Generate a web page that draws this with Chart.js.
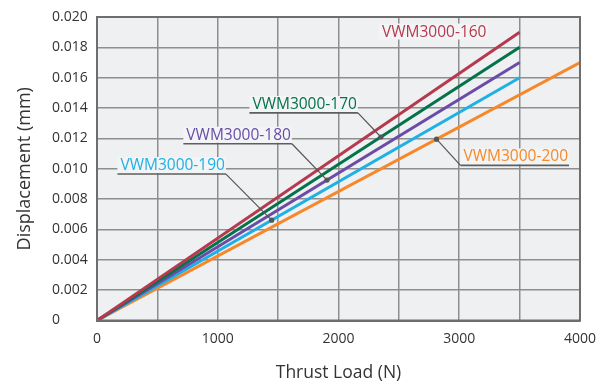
<!DOCTYPE html>
<html>
<head>
<meta charset="utf-8">
<script src="https://cdn.jsdelivr.net/npm/chart.js@4/dist/chart.umd.min.js"></script>
<style>
  html, body { margin: 0; padding: 0; background: #ffffff; }
  #wrap { width: 606px; height: 385px; }
</style>
</head>
<body>
<div id="wrap"><canvas id="c"></canvas></div>
<script>
// Thrust load (N) end points of each stiffness line
const loadTo3500 = [0, 3500];
const loadTo4000 = [0, 4000];

// Axial displacement (mm) at those loads, one array per model
const disp160 = [0, 0.019];
const disp170 = [0, 0.018];
const disp180 = [0, 0.017];
const disp190 = [0, 0.016];
const disp200 = [0, 0.017];

const modelNames = ['VWM3000-160', 'VWM3000-170', 'VWM3000-180', 'VWM3000-190', 'VWM3000-200'];

// Axis tick labels
const xTickLabels = ['0', '1000', '2000', '3000', '4000'];
const yTickLabels = ['0', '0.002', '0.004', '0.006', '0.008', '0.010',
                     '0.012', '0.014', '0.016', '0.018', '0.020'];

const seriesColors = ['#b5394f', '#04724a', '#6a4ca8', '#1fb0e4', '#f6882a'];

const pairs = (xs, ys) => xs.map((x, i) => ({ x: x, y: ys[i] }));

const datasets = [
  { label: modelNames[0], data: pairs(loadTo3500, disp160) },
  { label: modelNames[1], data: pairs(loadTo3500, disp170) },
  { label: modelNames[2], data: pairs(loadTo3500, disp180) },
  { label: modelNames[3], data: pairs(loadTo3500, disp190) },
  { label: modelNames[4], data: pairs(loadTo4000, disp200) }
].map((d, i) => Object.assign(d, {
  borderColor: seriesColors[i],
  backgroundColor: seriesColors[i],
  borderWidth: 3,
  pointRadius: 0,
  fill: false,
  tension: 0
}));

// Callout labels: text position, underline level and the load where the leader meets the line
// (all in data units: x = N, y = mm)
const callouts = [
  { series: 0, textX: 2360, lineY: 0.01845, underline: false },
  { series: 1, textX: 1287, lineY: 0.01368, dotX: 2351, leaderFrom: 'right' },
  { series: 2, textX: 740,  lineY: 0.01165, dotX: 1905, leaderFrom: 'right' },
  { series: 3, textX: 194,  lineY: 0.00965, dotX: 1446, leaderFrom: 'right' },
  { series: 4, textX: 3035, lineY: 0.01022, dotX: 2812, leaderFrom: 'left' }
];

const PLOT_BG = '#eff0f2';
const LABEL_BG = '#f3f4f5';
const LABEL_FONT = "15.5px 'Open Sans', sans-serif";

function valueAt(points, x) {
  for (let i = 0; i < points.length - 1; i++) {
    const a = points[i], b = points[i + 1];
    if (x >= a.x && x <= b.x) return a.y + (b.y - a.y) * (x - a.x) / (b.x - a.x);
  }
  return points[points.length - 1].y;
}

const plotBackground = {
  id: 'plotBackground',
  beforeDraw(chart) {
    const { ctx, chartArea: a } = chart;
    ctx.save();
    ctx.fillStyle = PLOT_BG;
    ctx.fillRect(a.left, a.top, a.right - a.left, a.bottom - a.top);
    ctx.restore();
  }
};

const calloutLabels = {
  id: 'calloutLabels',
  afterDatasetsDraw(chart) {
    const { ctx, scales: { x, y }, chartArea: a } = chart;
    ctx.save();
    ctx.font = LABEL_FONT;
    ctx.textBaseline = 'alphabetic';
    ctx.textAlign = 'left';
    callouts.forEach(c => {
      const name = modelNames[c.series];
      const color = seriesColors[c.series];
      const tx = x.getPixelForValue(c.textX);
      const ly = y.getPixelForValue(c.lineY);
      const w = ctx.measureText(name).width;
      const left = tx - 3, right = tx + w + 1;

      // label box hides the grid behind the text
      ctx.fillStyle = LABEL_BG;
      ctx.fillRect(left, ly - 17, right - left, 16);

      ctx.fillStyle = color;
      ctx.fillText(name, tx, ly - 4);

      if (c.underline === false) return;

      ctx.strokeStyle = '#5e5e5e';
      ctx.lineWidth = 1.6;
      ctx.beginPath();
      ctx.moveTo(left, ly);
      ctx.lineTo(right, ly);
      ctx.stroke();

      const pts = chart.data.datasets[c.series].data;
      const dx = x.getPixelForValue(c.dotX);
      const dy = y.getPixelForValue(valueAt(pts, c.dotX));
      const sx = c.leaderFrom === 'left' ? left : right;
      ctx.lineWidth = 1.2;
      ctx.strokeStyle = '#555555';
      ctx.beginPath();
      ctx.moveTo(sx, ly);
      ctx.lineTo(dx, dy);
      ctx.stroke();

      ctx.fillStyle = '#555555';
      ctx.beginPath();
      ctx.arc(dx, dy, 2.6, 0, Math.PI * 2);
      ctx.fill();
    });

    // plot frame
    ctx.strokeStyle = '#6e6e6e';
    ctx.lineWidth = 2;
    ctx.strokeRect(a.left, a.top, a.right - a.left, a.bottom - a.top);
    ctx.restore();
  }
};

Chart.defaults.font.family = "'Open Sans', sans-serif";
Chart.defaults.color = '#333333';

new Chart(document.getElementById('c'), {
  type: 'line',
  data: { datasets: datasets },
  plugins: [plotBackground, calloutLabels],
  options: {
    responsive: true,
    maintainAspectRatio: false,
    animation: false,
    layout: { padding: { top: 17, right: 21, left: 52, bottom: 0 } },
    plugins: { legend: { display: false }, tooltip: { enabled: false } },
    scales: {
      x: {
        type: 'linear',
        min: 0,
        max: 4000,
        afterFit(s) { s.height = 64.5; },
        grid: { color: '#8e8e8e', lineWidth: 1.5, drawTicks: false },
        border: { display: true, color: '#6e6e6e', width: 2 },
        ticks: {
          stepSize: 500,
          padding: 10,
          font: { size: 14 },
          color: '#333333',
          maxRotation: 0,
          autoSkip: false,
          callback: v => (v % 1000 === 0 ? xTickLabels[Math.round(v / 1000)] : '')
        },
        title: {
          display: true,
          text: 'Thrust Load (N)',
          font: { size: 17.5 },
          color: '#333333',
          padding: { top: 0, bottom: 1.5 }
        }
      },
      y: {
        type: 'linear',
        min: 0,
        max: 0.02,
        afterFit(s) { s.width = 45; },
        grid: { color: '#8e8e8e', lineWidth: 1.5, drawTicks: false },
        border: { display: true, color: '#6e6e6e', width: 2 },
        ticks: {
          stepSize: 0.002,
          padding: 7,
          crossAlign: 'far',
          font: { size: 14 },
          color: '#333333',
          autoSkip: false,
          callback: v => yTickLabels[Math.round(v / 0.002)]
        },
        title: {
          display: true,
          text: 'Displacement (mm)',
          font: { size: 18 },
          color: '#333333',
          padding: { top: -38, bottom: 0 }
        }
      }
    }
  }
});
</script>
</body>
</html>
